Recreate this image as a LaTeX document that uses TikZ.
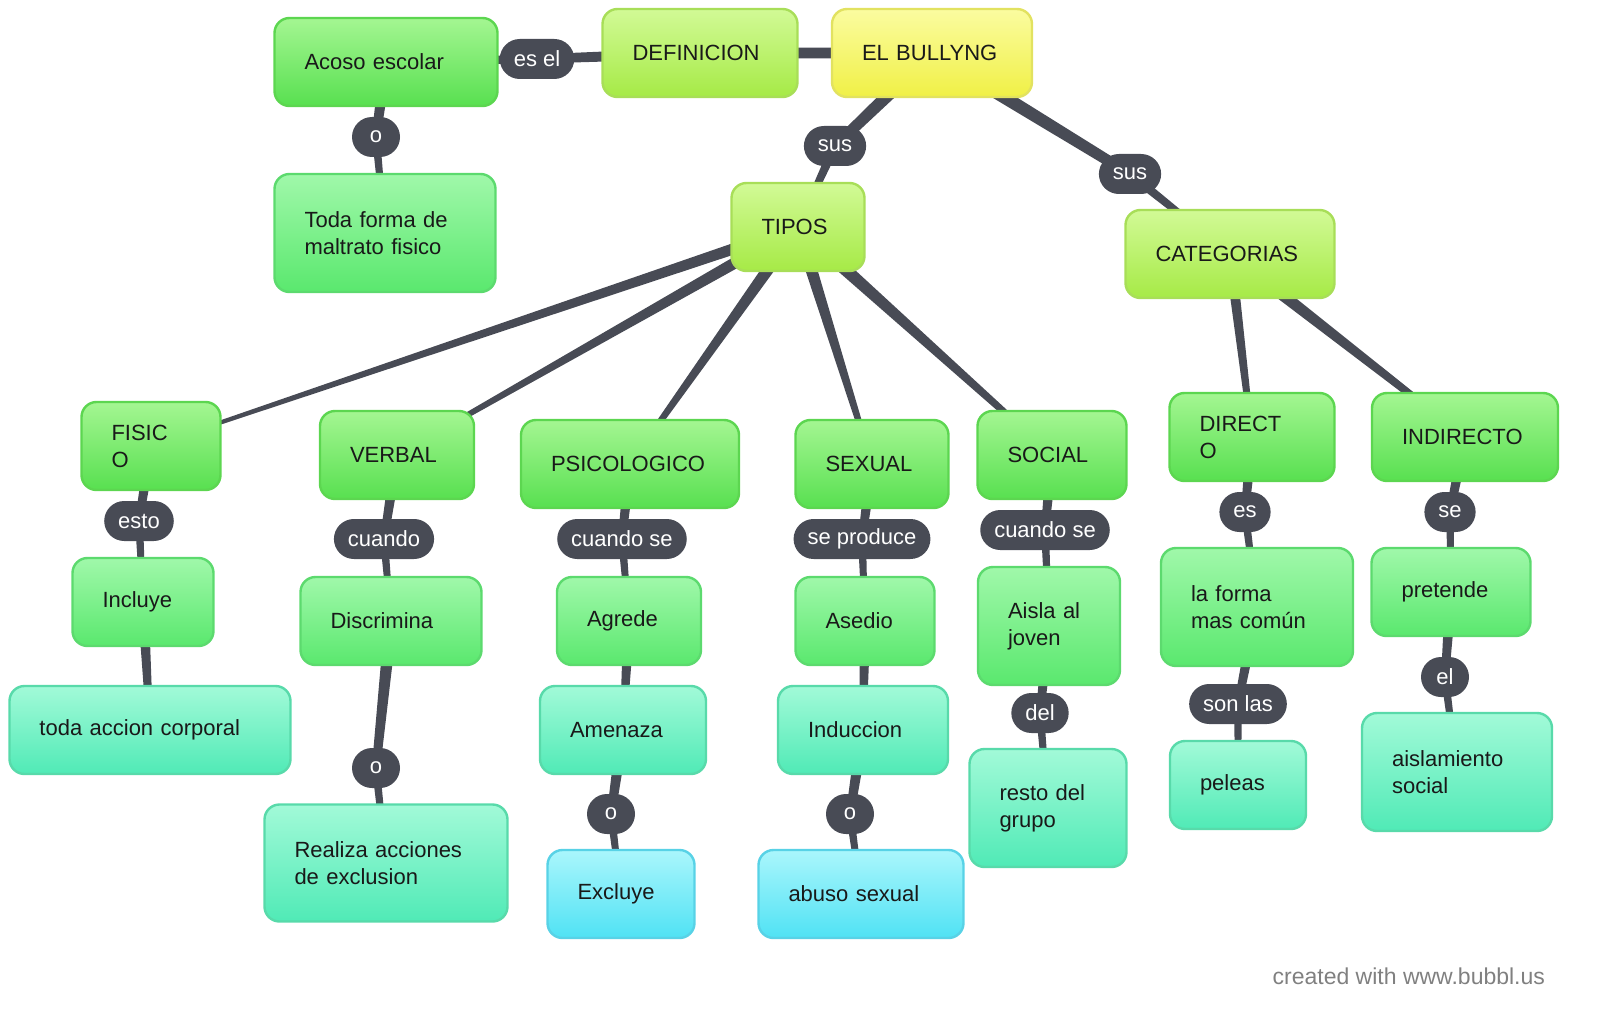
\documentclass[tikz,border=0pt]{standalone}
\usepackage{fontspec}
\setmainfont{Liberation Sans}
\usetikzlibrary{positioning, calc, backgrounds}
\definecolor{LinkGray}{RGB}{72,75,85}
\definecolor{FootGray}{RGB}{128,128,128}
\definecolor{YellowTop}{RGB}{251,252,160}
\definecolor{YellowBot}{RGB}{240,240,70}
\definecolor{YellowEdge}{RGB}{226,226,96}
\definecolor{LimeTop}{RGB}{210,250,150}
\definecolor{LimeBot}{RGB}{166,234,70}
\definecolor{LimeEdge}{RGB}{168,222,88}
\definecolor{GreenTop}{RGB}{164,246,146}
\definecolor{GreenBot}{RGB}{88,224,80}
\definecolor{GreenEdge}{RGB}{92,214,80}
\definecolor{MintTop}{RGB}{160,248,170}
\definecolor{MintBot}{RGB}{90,232,110}
\definecolor{MintEdge}{RGB}{92,218,110}
\definecolor{TealTop}{RGB}{162,250,216}
\definecolor{TealBot}{RGB}{80,234,182}
\definecolor{TealEdge}{RGB}{88,218,170}
\definecolor{CyanTop}{RGB}{170,246,252}
\definecolor{CyanBot}{RGB}{80,226,244}
\definecolor{CyanEdge}{RGB}{88,210,230}

\tikzset{
  concept/.style={draw, rounded corners=7.5pt, line width=1.2pt, inner xsep=15pt, inner ysep=0pt,
    align=left, minimum height=44pt, font=\fontsize{11}{13.5}\selectfont, text=black!90},
  rootbox/.style={concept, top color=YellowTop, bottom color=YellowBot, draw=YellowEdge},
  limebox/.style={concept, top color=LimeTop, bottom color=LimeBot, draw=LimeEdge},
  greenbox/.style={concept, top color=GreenTop, bottom color=GreenBot, draw=GreenEdge},
  mintbox/.style={concept, top color=MintTop, bottom color=MintBot, draw=MintEdge},
  tealbox/.style={concept, top color=TealTop, bottom color=TealBot, draw=TealEdge},
  cyanbox/.style={concept, top color=CyanTop, bottom color=CyanBot, draw=CyanEdge},
  linkpill/.style={fill=LinkGray, text=white, rounded corners=10pt, minimum height=20pt,
    minimum width=24pt, inner xsep=7pt, inner ysep=0pt, font=\fontsize{11}{13}\selectfont}
}

% tapered connector between two named nodes
\newcommand{\linkbar}[4]{%
  \fill[LinkGray] ($(#1)!#3!90:(#2)$) -- ($(#2)!#4!-90:(#1)$)
    -- ($(#2)!#4!90:(#1)$) -- ($(#1)!#3!-90:(#2)$) -- cycle;}

\begin{document}
\begin{tikzpicture}[x=0.5pt, y=-0.5pt]
    \useasboundingbox (0,0) rectangle (1600,1027);

    % top row
    \node[rootbox, text width=70pt] (bull) at (932,53) {EL BULLYNG};
    \node[limebox, text width=67.5pt] (defi) at (700,53) {DEFINICION};
    \node[greenbox, text width=81.5pt] (acoso) at (386,62) {Acoso escolar};
    \node[mintbox, text width=80.5pt, minimum height=59pt] (toda) at (385,233) {Toda forma de\\maltrato fisico};
    \node[limebox, text width=36.5pt] (tipos) at (798,227) {TIPOS};
    \node[limebox, text width=74.5pt] (categ) at (1230,254) {CATEGORIAS};

    % tipos and categorias
    \node[greenbox, text width=39.5pt] (fisico) at (151,446) {FISIC\\O};
    \node[greenbox, text width=47pt] (verbal) at (397,455) {VERBAL};
    \node[greenbox, text width=79pt] (psico) at (630,464) {PSICOLOGICO};
    \node[greenbox, text width=46.5pt] (sexual) at (872,464) {SEXUAL};
    \node[greenbox, text width=44.5pt] (social) at (1052,455) {SOCIAL};
    \node[greenbox, text width=52.5pt] (directo) at (1252,437) {DIRECT\\O};
    \node[greenbox, text width=63pt] (indirecto) at (1465,437) {INDIRECTO};

    % third level
    \node[mintbox, text width=40.5pt] (incluye) at (143,602) {Incluye};
    \node[mintbox, text width=60.5pt] (discrimina) at (391,621) {Discrimina};
    \node[mintbox, text width=42pt] (agrede) at (629,621) {Agrede};
    \node[mintbox, text width=39.5pt] (asedio) at (865,621) {Asedio};
    \node[mintbox, text width=41pt, minimum height=59pt] (aisla) at (1049,626) {Aisla al\\joven};
    \node[mintbox, text width=66pt, minimum height=59pt] (laforma) at (1257,607) {la forma\\mas común};
    \node[mintbox, text width=49.5pt] (pretende) at (1451,592) {pretende};

    % fourth and fifth level
    \node[tealbox, text width=110.5pt] (accion) at (150,730) {toda accion corporal};
    \node[tealbox, text width=53pt] (amenaza) at (623,730) {Amenaza};
    \node[tealbox, text width=55pt] (induccion) at (863,730) {Induccion};
    \node[tealbox, text width=48.5pt, minimum height=59pt] (resto) at (1048,808) {resto del\\grupo};
    \node[tealbox, text width=38pt] (peleas) at (1238,785) {peleas};
    \node[tealbox, text width=65pt, minimum height=59pt] (aislamiento) at (1457,772) {aislamiento\\social};
    \node[tealbox, text width=91.5pt, minimum height=58.5pt] (realiza) at (386,863) {Realiza acciones\\de exclusion};
    \node[cyanbox, text width=43.5pt] (excluye) at (621,894) {Excluye};
    \node[cyanbox, text width=72.5pt] (abuso) at (861,894) {abuso sexual};

    % link labels
    \node[linkpill] (eseL) at (537,59) {es el};
    \node[linkpill] (oA) at (376,137) {o};
    \node[linkpill] (susA) at (835,146) {sus};
    \node[linkpill] (susB) at (1130,174) {sus};
    \node[linkpill] (esto) at (139,521) {esto};
    \node[linkpill] (cuando) at (384,539) {cuando};
    \node[linkpill] (cuandoseA) at (622,539) {cuando se};
    \node[linkpill] (seproduce) at (862,539) {se produce};
    \node[linkpill] (cuandoseB) at (1045,530) {cuando se};
    \node[linkpill] (es) at (1245,512) {es};
    \node[linkpill] (se) at (1450,512) {se};
    \node[linkpill] (oB) at (376,768) {o};
    \node[linkpill] (oC) at (611,814) {o};
    \node[linkpill] (oD) at (850,814) {o};
    \node[linkpill] (del) at (1040,713) {del};
    \node[linkpill] (sonlas) at (1238,704) {son las};
    \node[linkpill] (el) at (1445,677) {el};

    \node[anchor=east, text=FootGray, font=\fontsize{11.5}{13}\selectfont] (credit) at (1552,976) {created with www.bubbl.us};

    \begin{scope}[on background layer]
        \foreach \a/\b/\w/\v in {bull/defi/2.8pt/2.6pt, defi/eseL/2.8pt/2.3pt, eseL/acoso/2.2pt/1.6pt,
            acoso/oA/3pt/2.2pt, oA/toda/2pt/1.4pt, bull/susA/3.5pt/2.6pt, susA/tipos/2.3pt/1.4pt,
            bull/susB/3.6pt/2.6pt, susB/categ/2.3pt/1.3pt,
            tipos/fisico/3pt/0.8pt, tipos/verbal/3.2pt/1pt, tipos/psico/3.3pt/1.2pt,
            tipos/sexual/3.3pt/1.2pt, tipos/social/3.5pt/1.3pt,
            categ/directo/2.8pt/1.4pt, categ/indirecto/3.3pt/1.4pt,
            fisico/esto/2.7pt/2pt, esto/incluye/2pt/1.4pt, incluye/accion/2.8pt/1.6pt,
            verbal/cuando/2.8pt/2pt, cuando/discrimina/2pt/1.4pt, discrimina/oB/3.2pt/2.1pt, oB/realiza/2pt/1.4pt,
            psico/cuandoseA/2.8pt/2pt, cuandoseA/agrede/2pt/1.4pt, agrede/amenaza/2.8pt/1.6pt,
            amenaza/oC/3pt/2.1pt, oC/excluye/2pt/1.4pt,
            sexual/seproduce/2.8pt/2pt, seproduce/asedio/2pt/1.4pt, asedio/induccion/2.8pt/1.6pt,
            induccion/oD/3pt/2.1pt, oD/abuso/2pt/1.4pt,
            social/cuandoseB/2.8pt/2pt, cuandoseB/aisla/2pt/1.4pt, aisla/del/2.8pt/2pt, del/resto/2pt/1.4pt,
            directo/es/2.8pt/2pt, es/laforma/2pt/1.4pt, laforma/sonlas/2.8pt/2pt, sonlas/peleas/2pt/1.4pt,
            indirecto/se/2.8pt/2pt, se/pretende/2pt/1.4pt, pretende/el/2.8pt/2pt, el/aislamiento/2pt/1.4pt}
        {
            \linkbar{\a}{\b}{\w}{\v}
        }
    \end{scope}
\end{tikzpicture}
\end{document}
